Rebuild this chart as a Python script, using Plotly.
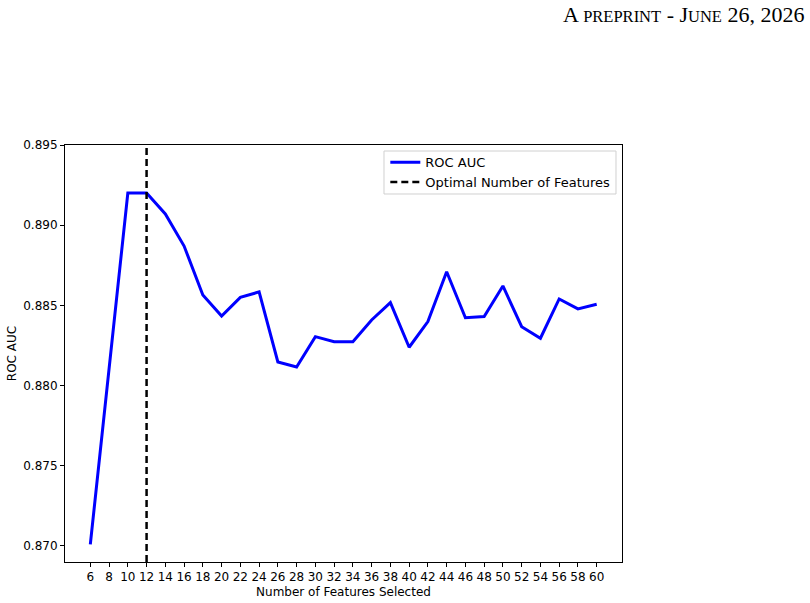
import plotly.graph_objects as go

n_features = [6, 8, 10, 12, 14, 16, 18, 20, 22, 24, 26, 28, 30, 32, 34, 36, 38, 40,
              42, 44, 46, 48, 50, 52, 54, 56, 58, 60]
roc_auc = [0.8701, 0.8810, 0.8920, 0.8920, 0.8907, 0.8887, 0.88565, 0.88434, 0.8855,
           0.88584, 0.88147, 0.88116, 0.88305, 0.88274, 0.88274, 0.88409, 0.88517,
           0.88239, 0.88399, 0.8871, 0.88423, 0.8843, 0.88621, 0.88367, 0.88295,
           0.8854, 0.88478, 0.88507]
optimal_n = 12
y_ticks = [0.870, 0.875, 0.880, 0.885, 0.890, 0.895]
y_range = [0.869, 0.895]
x_range = [3.3, 62.7]

fig = go.Figure()
fig.add_trace(go.Scatter(x=n_features, y=roc_auc, mode="lines", name="ROC AUC",
                         line=dict(color="#0000ff", width=3)))
fig.add_trace(go.Scatter(x=[optimal_n, optimal_n], y=y_range, mode="lines",
                         name="Optimal Number of Features",
                         line=dict(color="black", width=2.5, dash="7px,4px")))

axis_common = dict(showline=True, linecolor="black", linewidth=1, mirror=True,
                   ticks="outside", ticklen=4, tickcolor="black", showgrid=False,
                   zeroline=False, automargin=False,
                   tickfont=dict(family="DejaVu Sans", size=12, color="black"))

fig.update_xaxes(range=x_range, tickvals=n_features, ticktext=[str(v) for v in n_features],
                 title=dict(text="Number of Features Selected", standoff=4,
                            font=dict(family="DejaVu Sans", size=12, color="black")),
                 **axis_common)
fig.update_yaxes(range=y_range, tickvals=y_ticks, ticktext=[f"{v:.3f}" for v in y_ticks],
                 title=dict(text="ROC AUC", standoff=4,
                            font=dict(family="DejaVu Sans", size=12, color="black")),
                 **axis_common)

fig.update_layout(
    width=810, height=603,
    margin=dict(l=65, r=188, t=145, b=41),
    plot_bgcolor="white", paper_bgcolor="white",
    showlegend=True,
    legend=dict(x=0.988, y=0.9946, xanchor="right", yanchor="top",
                bgcolor="rgba(0,0,0,0)", borderwidth=0,
                font=dict(family="DejaVu Sans", size=13, color="black"),
                itemwidth=30, tracegroupgap=0),
    shapes=[dict(type="rect", xref="paper", yref="paper",
                 x0=0.5727, x1=0.9892, y0=0.8825, y1=0.9856,
                 line=dict(color="#d0d0d0", width=1), fillcolor="rgba(255,255,255,0.8)",
                 layer="below")],
    annotations=[dict(
        text="A <span style='font-size:16.5px'>PREPRINT</span> - J<span style='font-size:16.5px'>UNE</span> 26, 2026",
        xref="paper", yref="paper", x=1.0, y=1.0, xanchor="right", yanchor="top",
        xshift=184, yshift=145, showarrow=False,
        font=dict(family="Liberation Serif", size=22, color="black"))],
)

fig.write_html("out.html")
